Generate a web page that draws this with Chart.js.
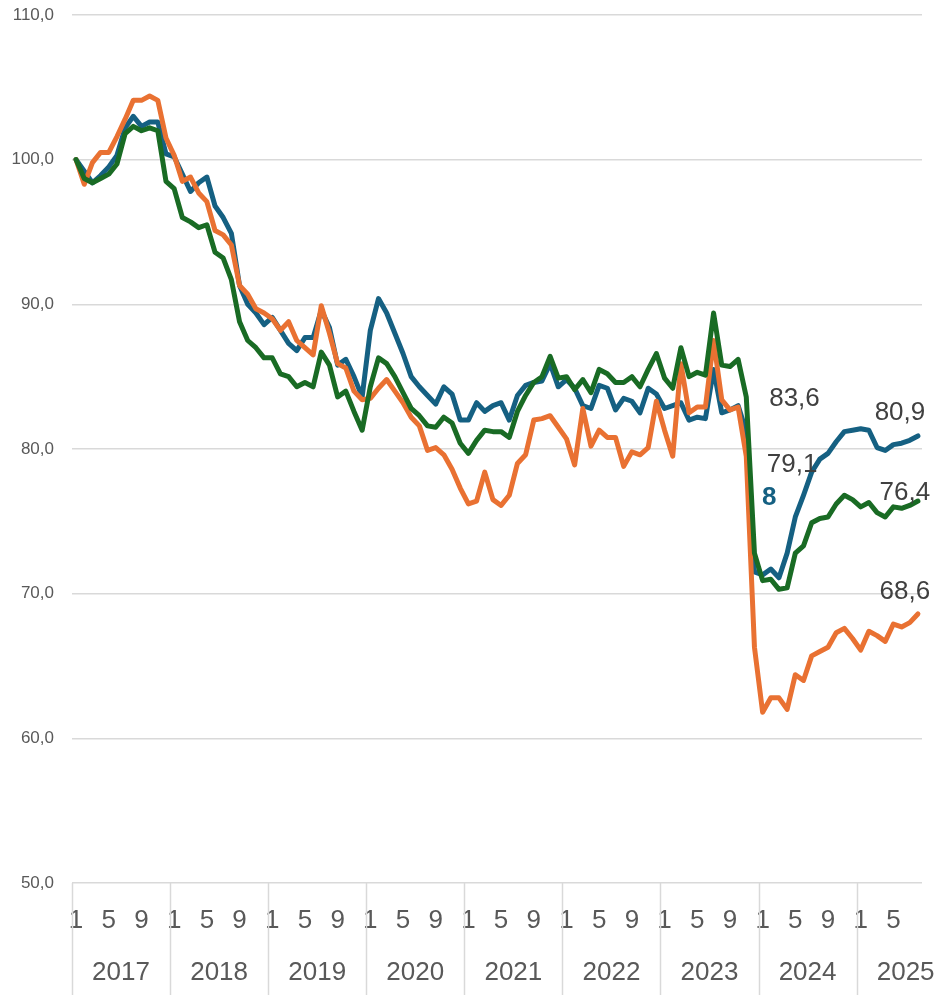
<!DOCTYPE html>
<html><head><meta charset="utf-8">
<script src="https://cdn.jsdelivr.net/npm/chart.js@4.4.1/dist/chart.umd.min.js"></script>
<style>html,body{margin:0;padding:0;background:#fff}#wrap{width:937px;height:995px;position:relative}</style>
</head><body><div id="wrap"><canvas id="c"></canvas></div>
<script>
const years = [2017, 2018, 2019, 2020, 2021, 2022, 2023, 2024, 2025];
const monthsInLastYear = 8;
const shownMonths = [1, 5, 9];
const yTickValues = [50, 60, 70, 80, 90, 100, 110];

const seriesBlue = [
  100.0, 99.2, 98.4, 98.9, 99.5, 100.3, 102.2, 103.0, 102.3, 102.6, 102.6, 100.4,
  100.2, 99.0, 97.8, 98.4, 98.8, 96.8, 96.0, 94.9, 91.3, 90.0, 89.4, 88.6,
  89.1, 88.2, 87.3, 86.8, 87.7, 87.7, 89.6, 88.4, 85.8, 86.2, 85.0, 83.6,
  88.2, 90.4, 89.4, 88.0, 86.6, 85.0, 84.3, 83.7, 83.1, 84.3, 83.8, 82.0,
  82.0, 83.2, 82.6, 83.0, 83.2, 82.0, 83.7, 84.4, 84.6, 84.7, 85.9, 84.3,
  84.8, 84.2, 83.0, 82.8, 84.4, 84.2, 82.7, 83.5, 83.3, 82.5, 84.2, 83.8,
  82.8, 83.0, 83.2, 82.0, 82.2, 82.1, 85.5, 82.5, 82.7, 83.0, 81.2, 71.5,
  71.3, 71.7, 71.1, 72.8, 75.3, 76.8, 78.4, 79.3, 79.7, 80.5, 81.2, 81.3,
  81.4, 81.3, 80.1, 79.9, 80.3, 80.4, 80.6, 80.9
];
const seriesOrange = [
  100.0, 98.3, 99.8, 100.5, 100.5, 101.6, 102.8, 104.1, 104.1, 104.4, 104.1, 101.5,
  100.3, 98.5, 98.8, 97.7, 97.1, 95.1, 94.8, 94.1, 91.3, 90.7, 89.7, 89.4,
  89.0, 88.2, 88.8, 87.5, 87.0, 86.5, 89.9, 88.0, 85.9, 85.6, 84.0, 83.4,
  83.5, 84.2, 84.8, 84.0, 83.2, 82.2, 81.6, 79.9, 80.1, 79.6, 78.6, 77.3,
  76.2, 76.4, 78.4, 76.5, 76.1, 76.8, 79.0, 79.6, 82.0, 82.1, 82.3, 81.5,
  80.7, 78.9, 82.8, 80.2, 81.3, 80.8, 80.8, 78.8, 79.8, 79.6, 80.1, 83.3,
  81.3, 79.5, 85.9, 82.5, 82.9, 82.9, 87.5, 83.4, 82.7, 82.9, 79.5, 66.3,
  61.8, 62.8, 62.8, 62.0, 64.4, 64.0, 65.7, 66.0, 66.3, 67.3, 67.6, 66.9,
  66.1, 67.4, 67.1, 66.7, 67.9, 67.7, 68.0, 68.6
];
const seriesGreen = [
  100.0, 98.7, 98.4, 98.7, 99.0, 99.7, 101.8, 102.3, 102.0, 102.2, 102.0, 98.5,
  98.0, 96.0, 95.7, 95.3, 95.5, 93.6, 93.2, 91.7, 88.8, 87.5, 87.0, 86.3,
  86.3, 85.2, 85.0, 84.3, 84.6, 84.3, 86.7, 85.8, 83.6, 84.0, 82.6, 81.3,
  84.3, 86.3, 85.9, 85.0, 83.9, 82.8, 82.3, 81.6, 81.5, 82.2, 81.8, 80.4,
  79.7, 80.6, 81.3, 81.2, 81.2, 80.8, 82.6, 83.7, 84.6, 85.0, 86.4, 84.9,
  85.0, 84.1, 84.8, 83.9, 85.5, 85.2, 84.6, 84.6, 85.0, 84.3, 85.5, 86.6,
  84.9, 84.2, 87.0, 85.0, 85.3, 85.1, 89.4, 85.8, 85.7, 86.2, 83.6, 72.8,
  70.9, 71.0, 70.3, 70.4, 72.8, 73.3, 74.9, 75.2, 75.3, 76.2, 76.8, 76.5,
  76.0, 76.3, 75.6, 75.3, 76.0, 75.9, 76.1, 76.4
];

// text labels on the chart: text, category index position, value position, colour, bold
const labelTexts = ['83,6', '79,1', '8', '80,9', '76,4', '68,6'];
const labelIndexPos = [87.9, 87.6, 84.8, 100.8, 101.4, 101.4];
const labelValuePos = [83.5, 78.9, 76.6, 82.5, 77.0, 70.1];
const labelColors = ['#404040', '#404040', '#156082', '#404040', '#404040', '#404040'];
const labelBold = [false, false, true, false, false, false];

// build categories
const catYear = [], catMonth = [], categories = [];
years.forEach((y, k) => {
  const n = (k === years.length - 1) ? monthsInLastYear : 12;
  for (let m = 1; m <= n; m++) { catYear.push(y); catMonth.push(m); categories.push(y + '-' + m); }
});

const FONT = '"Liberation Sans", Arial, sans-serif';
const GRID = '#D9D9D9';

const yearAxisPlugin = {
  id: 'yearAxis',
  afterDraw(chart) {
    const ctx = chart.ctx, xs = chart.scales.x;
    const slot = xs.getPixelForValue(1) - xs.getPixelForValue(0);
    const top = chart.chartArea.bottom, bottom = chart.height;
    ctx.save();
    ctx.strokeStyle = GRID; ctx.lineWidth = 1.5;
    ctx.font = '26px ' + FONT; ctx.fillStyle = '#595959';
    ctx.textAlign = 'center'; ctx.textBaseline = 'middle';
    years.forEach((y, k) => {
      const left = xs.getPixelForValue(k * 12) - slot / 2;
      ctx.beginPath(); ctx.moveTo(Math.round(left) + 0.5, top); ctx.lineTo(Math.round(left) + 0.5, bottom); ctx.stroke();
      let cx = left + slot * 6;
      const w = ctx.measureText(String(y)).width;
      cx = Math.min(cx, chart.width - w / 2);
      ctx.fillText(String(y), cx, 973);
    });
    ctx.restore();
  },
  afterDatasetsDraw(chart) {
    const ctx = chart.ctx, xs = chart.scales.x, ys = chart.scales.y;
    ctx.save();
    ctx.textAlign = 'center'; ctx.textBaseline = 'middle';
    labelTexts.forEach((t, i) => {
      ctx.font = (labelBold[i] ? 'bold ' : '') + '26px ' + FONT;
      ctx.fillStyle = labelColors[i];
      ctx.fillText(t, xs.getPixelForValue(labelIndexPos[i]), ys.getPixelForValue(labelValuePos[i]));
    });
    ctx.restore();
  }
};

const lineDs = (data, color, order) => ({
  data, borderColor: color, backgroundColor: color, borderWidth: 5,
  pointRadius: 0, tension: 0, borderJoinStyle: 'round', borderCapStyle: 'round', order
});

new Chart(document.getElementById('c'), {
  type: 'line',
  data: {
    labels: categories,
    datasets: [
      lineDs(seriesBlue, '#156082', 2),
      lineDs(seriesOrange, '#E97132', 1),
      lineDs(seriesGreen, '#196B24', 0)
    ]
  },
  options: {
    responsive: true, maintainAspectRatio: false, animation: false, devicePixelRatio: 1,
    layout: { padding: { left: 0, right: 15, top: 15, bottom: 0 } },
    plugins: { legend: { display: false }, tooltip: { enabled: false } },
    scales: {
      x: {
        type: 'category', offset: true,
        grid: { display: false, drawTicks: false },
        border: { display: false },
        ticks: {
          autoSkip: false, maxRotation: 0, minRotation: 0, padding: 22,
          font: { size: 26, family: FONT }, color: '#595959',
          callback: (v, i) => shownMonths.includes(catMonth[i]) ? String(catMonth[i]) : ''
        },
        afterFit: (s) => { s.height = 112; s.paddingLeft = 0; s.paddingRight = 0; }
      },
      y: {
        min: 50, max: 110,
        afterBuildTicks: (s) => { s.ticks = yTickValues.map(v => ({ value: v })); },
        grid: { color: GRID, lineWidth: 1.5, drawTicks: false },
        border: { display: false },
        ticks: {
          padding: 18, font: { size: 17, family: FONT }, color: '#595959',
          callback: (v) => v.toFixed(1).replace('.', ',')
        },
        afterFit: (s) => { s.width = 72; s.paddingTop = 0; s.paddingBottom = 0; }
      }
    }
  },
  plugins: [yearAxisPlugin]
});
</script>
</body></html>
